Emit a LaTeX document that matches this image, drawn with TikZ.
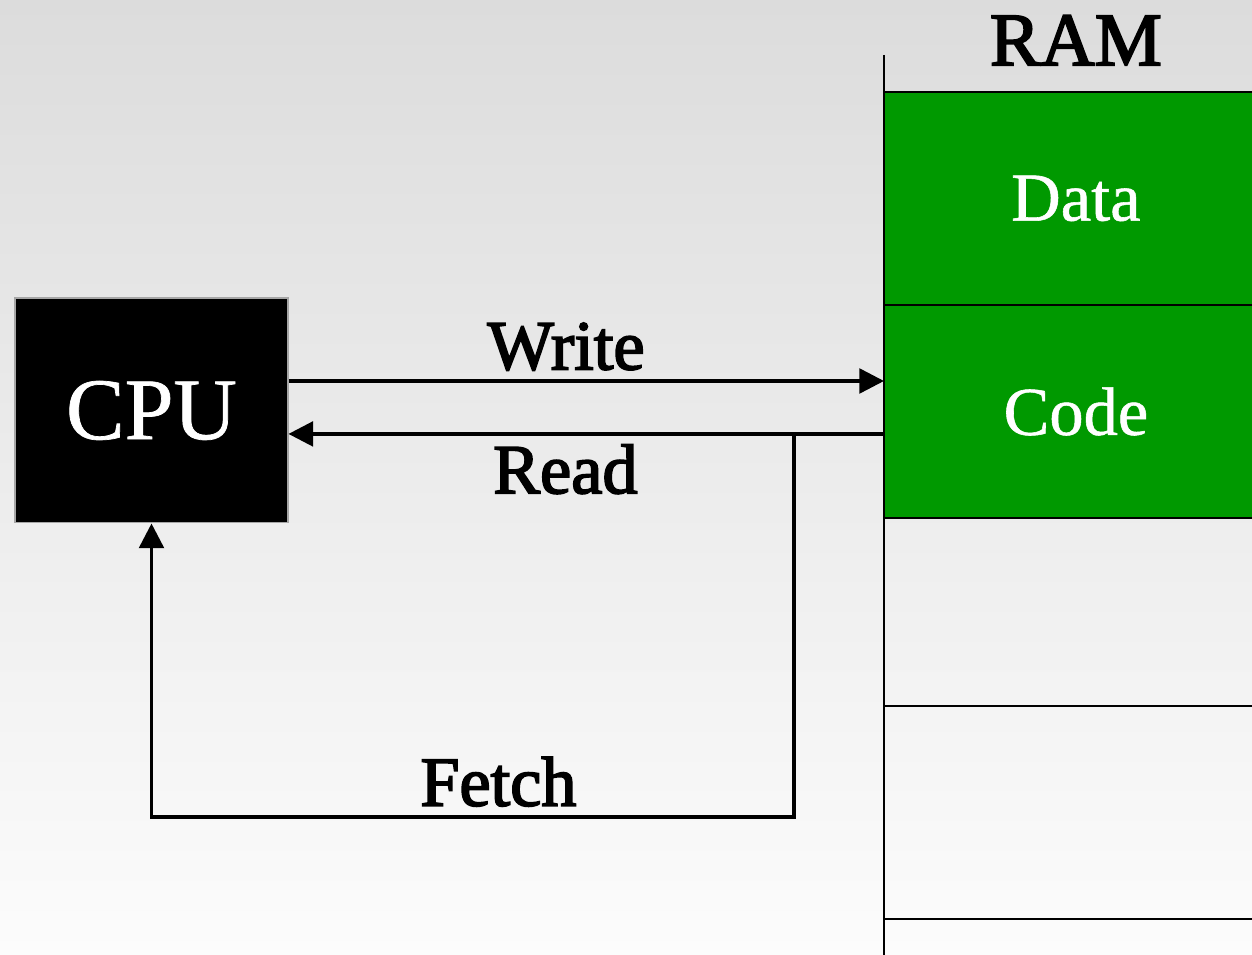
\documentclass[tikz,border=0pt]{standalone}
\usepackage{fontspec}
\setmainfont{Liberation Serif}
\newfontfamily\lblfont{Liberation Serif}[FakeBold=2.5]
\newfontfamily\boxfont{Liberation Serif}[FakeBold=0.8]
\usepackage{xcolor}
\usetikzlibrary{arrows.meta,positioning,calc}

\definecolor{bgtop}{RGB}{220,220,220}
\definecolor{bgbot}{RGB}{252,252,252}
\definecolor{ramgreen}{RGB}{0,153,0}

\begin{document}
\begin{tikzpicture}[x=0.02cm,y=-0.02cm,
	cell/.style={draw, line width=1.5pt, outer sep=0, minimum width=7.68cm, minimum height=4.26cm, inner sep=0, text=white, font=\boxfont\fontsize{39}{44}\selectfont},
	bus/.style={line width=2pt, -{Triangle[length=14pt,width=14pt]}},
	lbl/.style={font=\lblfont\fontsize{40}{44}\selectfont, inner sep=0}]
	% Nền
	\useasboundingbox (0,0) rectangle (1252,955);
	\clip (0,0) rectangle (1252,955);
	\shade[top color=bgtop, bottom color=bgbot] (0,0) rectangle (1252,955);
	% CPU
	\node[fill=black, draw=gray!70, line width=0.6pt, minimum width=5.46cm, minimum height=4.5cm,
		text=white, font=\boxfont\fontsize{50}{56}\selectfont] (cpu) at (151.5,410.5) {CPU};
	% Các ô RAM
	\node[cell, fill=ramgreen, anchor=north west] (data) at (884,92) {Data};
	\node[cell, fill=ramgreen, below=0pt of data] (code) {Code};
	\node[cell, minimum height=3.76cm, below=0pt of code] (free1) {};
	\node[cell, below=0pt of free1] (free2) {};
	\node[cell, below=0pt of free2] (free3) {};
	\draw[line width=1.6pt] (data.north west) ++(0,-37) -- (free3.south west);
	\node[lbl, font=\lblfont\fontsize{43}{48}\selectfont, above=15pt of data.north] (ram) {RAM};
	% Ghi / đọc
	\coordinate (wfrom) at ($(cpu.east)+(0,-29.5)$);
	\draw[bus] (wfrom) -- (wfrom -| code.west) node[lbl, pos=0.466, above=5pt] (write) {Write};
	\coordinate (rfrom) at ($(code.west)+(0,22.5)$);
	\draw[bus] (rfrom) -- (rfrom -| cpu.east) node[lbl, pos=0.535, below=5pt] (read) {Read};
	% Nạp lệnh
	\coordinate (ftap) at ($(rfrom)+(-90,0)$);
	\draw[bus] (ftap) -- ($(ftap)+(0,383)$) coordinate (fcorner)
		-- (fcorner -| cpu.south) node[lbl, pos=0.46, above=5pt] (fetch) {Fetch}
		-- (cpu.south);
\end{tikzpicture}
\end{document}
